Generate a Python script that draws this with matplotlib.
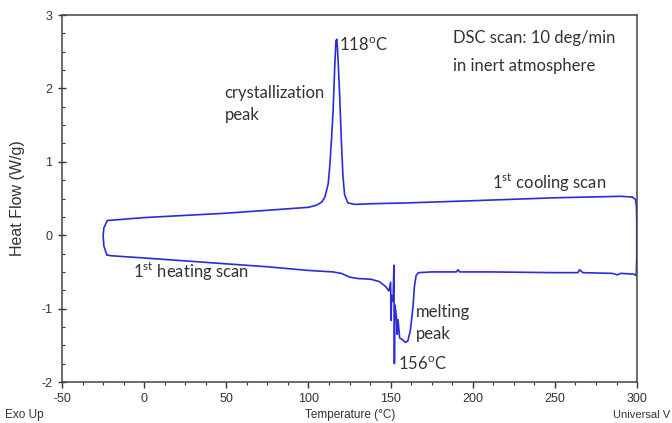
import numpy as np
import matplotlib.pyplot as plt
from matplotlib.ticker import MultipleLocator

plt.rcParams['font.family'] = ['Lato', 'DejaVu Sans']
plt.rcParams['mathtext.fontset'] = 'custom'
plt.rcParams['mathtext.rm'] = 'Lato'
plt.rcParams['axes.unicode_minus'] = False

# 1st heating scan (temperature in degC, heat flow in W/g), then up the right end
heat_T = [-22.5, -20, 0, 25, 50, 75, 100, 115, 120, 125, 130, 138, 143, 147, 149,
          150, 150.3, 150.6, 151.5, 152, 152.3, 152.6, 153.5, 154, 154.5, 155.5,
          157, 159, 160.5, 162, 163.5, 164.5, 165.5, 167, 175, 190, 191, 192, 210,
          250, 264, 265, 267, 285, 288, 290, 298, 299.5,
          299.8, 299.8, 299.6, 299, 297]
heat_Q = [-0.27, -0.28, -0.31, -0.35, -0.39, -0.43, -0.48, -0.50, -0.52, -0.57, -0.59, -0.60, -0.63, -0.70, -0.76,
          -0.64, -1.16, -0.82, -0.90, -0.41, -1.75, -0.95, -1.10, -1.35, -1.15, -1.40,
          -1.42, -1.46, -1.44, -1.30, -1.00, -0.70, -0.55, -0.51, -0.50, -0.50, -0.47, -0.50, -0.50,
          -0.51, -0.51, -0.47, -0.51, -0.52, -0.54, -0.52, -0.53, -0.55,
          -0.30, 0.20, 0.40, 0.49, 0.52]

# 1st cooling scan, then down the left end back to the start
cool_T = [297, 290, 250, 200, 160, 140, 128, 124, 122, 121, 120, 119, 118, 117.3,
          116.7, 116, 115, 114, 113, 112, 110, 108, 105, 100, 75, 50, 25, 0, -22.5,
          -24.5, -25, -24.5, -23, -22.5]
cool_Q = [0.52, 0.53, 0.51, 0.47, 0.44, 0.43, 0.42, 0.44, 0.55, 0.80, 1.30, 1.90, 2.40, 2.67,
          2.65, 2.30, 1.70, 1.30, 0.95, 0.70, 0.52, 0.45, 0.41, 0.38, 0.34, 0.30, 0.27, 0.24, 0.20,
          0.10, 0.0, -0.15, -0.25, -0.27]

line_color = '#2b2bdc'
txt = '#333333'
tick_font = ['Liberation Sans Narrow', 'Liberation Sans', 'DejaVu Sans']

fig = plt.figure(figsize=(6.72, 4.23), dpi=100)
ax = fig.add_axes([0.0923, 0.0969, 0.8557, 0.8676])

ax.plot(heat_T, heat_Q, color=line_color, lw=1.2)
ax.plot(cool_T, cool_Q, color=line_color, lw=1.2)

ax.set_xlim(-50, 300)
ax.set_ylim(-2, 3)
ax.xaxis.set_major_locator(MultipleLocator(50))
ax.xaxis.set_minor_locator(MultipleLocator(12.5))
ax.yaxis.set_major_locator(MultipleLocator(1))
ax.yaxis.set_minor_locator(MultipleLocator(0.25))
ax.tick_params(axis='x', which='major', direction='out', length=4, width=1, colors=txt, labelsize=9, pad=4)
ax.tick_params(axis='x', which='minor', direction='out', length=2.5, width=0.8, colors=txt)
ax.tick_params(axis='y', which='major', direction='inout', length=6, width=1, colors=txt, labelsize=9, pad=4)
ax.tick_params(axis='y', which='minor', direction='in', length=2.5, width=0.8, colors=txt)
for lab in ax.get_xticklabels() + ax.get_yticklabels():
    lab.set_family(tick_font)
for s in ax.spines.values():
    s.set_color('#444444')
    s.set_linewidth(1.1)

ax.set_ylabel('Heat Flow (W/g)', family=['Liberation Sans', 'DejaVu Sans'], fontsize=11.5,
              color=txt, labelpad=12)
fig.text(0.521, 0.019, 'Temperature (°C)', family=tick_font, fontsize=8.5, color=txt, ha='center', va='center')
fig.text(0.008, 0.019, 'Exo Up', family=tick_font, fontsize=8.5, color=txt, ha='left', va='center')
fig.text(0.912, 0.019, 'Universal V', family=tick_font, fontsize=8, color=txt, ha='left', va='center')

# annotations
kw = dict(fontsize=12, color=txt, va='center', ha='left')
ax.text(188, 2.69, 'DSC scan: 10 deg/min', **kw)
ax.text(188, 2.31, 'in inert atmosphere', **kw)
ax.text(49, 1.94, 'crystallization', **kw)
ax.text(49, 1.64, 'peak', **kw)
ax.text(118.6, 2.59, r'118$^{\mathrm{o}}$C', **kw)
ax.text(211.7, 0.71, r'1$^{\mathrm{st}}$ cooling scan', **kw)
ax.text(-6.8, -0.50, r'1$^{\mathrm{st}}$ heating scan', **kw)
ax.text(165.5, -1.05, 'melting', **kw)
ax.text(165.5, -1.34, 'peak', **kw)
ax.text(154.5, -1.76, r'156$^{\mathrm{o}}$C', **kw)

fig.savefig('out.png', dpi=100)
